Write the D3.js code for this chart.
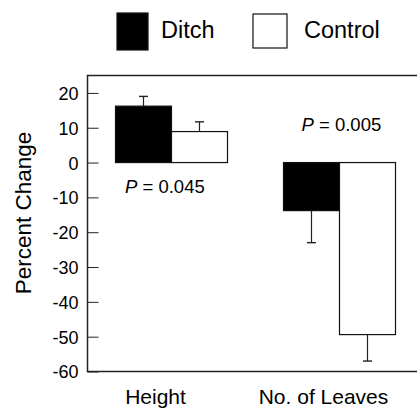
<!DOCTYPE html>
<html>
<head>
<meta charset="utf-8">
<script src="https://cdn.jsdelivr.net/npm/d3@7"></script>
<style>
    body { margin: 0; background: #fff; }
    text { font-family: "Liberation Sans", Arial, sans-serif; fill: #000; }
    .tick text { font-size: 18px; }
    .tick line { stroke: #222; }
</style>
</head>
<body>
<script>
// data
var categories = ["Height", "No. of Leaves"];
var groups = ["Ditch", "Control"];
var ditchValues = [16.2, -13.8];
var controlValues = [8.9, -49.4];
var ditchErrors = [2.8, 9.2];      // one-sided error bars
var controlErrors = [2.8, 7.6];
var pLabels = ["0.045", "0.005"];
var pLabelY = [-8.8, 9];           // value where the P text sits
var yTicks = [20, 10, 0, -10, -20, -30, -40, -50, -60];

function init() {
    var w = 417;
    var h = 408;
    var left = 87.5, top = 75.5, bottom = 371.5, right = 423.5;

    var svg = d3.select("body")
        .append("svg")
        .attr("width", w)
        .attr("height", h);

    var xScale = d3.scaleBand()
        .domain(categories)
        .range([left, right])
        .paddingInner(1 / 3)
        .paddingOuter(1 / 6);

    var xSub = d3.scaleBand()
        .domain(groups)
        .range([0, xScale.bandwidth()]);

    var yScale = d3.scaleLinear()
        .domain([-60, 25])
        .range([bottom, top]);

    // build rows for bars
    var rows = [];
    categories.forEach(function(c, i) {
        rows.push({cat: c, grp: "Ditch", v: ditchValues[i], e: ditchErrors[i]});
        rows.push({cat: c, grp: "Control", v: controlValues[i], e: controlErrors[i]});
    });

    // error bars first (drawn behind bars)
    var err = svg.append("g");
    rows.forEach(function(d) {
        var cx = xScale(d.cat) + xSub(d.grp) + xSub.bandwidth() / 2;
        var end = d.v >= 0 ? d.v + d.e : d.v - d.e;
        err.append("line")
            .attr("x1", cx).attr("x2", cx)
            .attr("y1", yScale(d.v)).attr("y2", yScale(end))
            .attr("stroke", "#222").attr("stroke-width", 1.2);
        err.append("line")
            .attr("x1", cx - 4.5).attr("x2", cx + 4.5)
            .attr("y1", yScale(end)).attr("y2", yScale(end))
            .attr("stroke", "#222").attr("stroke-width", 1.4);
    });

    // bars
    svg.append("g")
        .selectAll("rect")
        .data(rows)
        .enter()
        .append("rect")
        .attr("x", function(d) { return xScale(d.cat) + xSub(d.grp); })
        .attr("y", function(d) { return yScale(Math.max(0, d.v)); })
        .attr("width", xSub.bandwidth())
        .attr("height", function(d) { return Math.abs(yScale(d.v) - yScale(0)); })
        .attr("fill", function(d) { return d.grp == "Ditch" ? "#000" : "#fff"; })
        .attr("stroke", "#111")
        .attr("stroke-width", 1.2);

    // y axis, ticks pointing inward, plain hyphen minus like the original
    var yAxis = d3.axisLeft(yScale)
        .tickValues(yTicks)
        .tickFormat(function(d) { return String(d); })
        .tickSizeInner(-11)
        .tickSizeOuter(0)
        .tickPadding(9);

    var gy = svg.append("g")
        .attr("transform", "translate(" + left + ",0)")
        .call(yAxis);
    gy.select(".domain").remove();
    gy.selectAll(".tick text").attr("dy", "0.36em");

    // frame: left, top, bottom
    svg.append("path")
        .attr("d", "M" + right + "," + top + "H" + left + "V" + bottom + "H" + right)
        .attr("fill", "none")
        .attr("stroke", "#222")
        .attr("stroke-width", 1.5);

    // category labels
    svg.append("g")
        .selectAll("text")
        .data(categories)
        .enter()
        .append("text")
        .attr("x", function(d) { return xScale(d) + xScale.bandwidth() / 2 - 16; })
        .attr("y", 404)
        .attr("text-anchor", "middle")
        .style("font-size", "21px")
        .text(function(d) { return d; });

    // P values
    categories.forEach(function(c, i) {
        var t = svg.append("text")
            .attr("x", xScale(c) + (i == 0 ? 9.5 : 18))
            .attr("y", yScale(pLabelY[i]))
            .style("font-size", "18.5px");
        t.append("tspan").style("font-style", "italic").text("P");
        t.append("tspan").text(" = " + pLabels[i]);
    });

    // y axis title
    svg.append("text")
        .attr("transform", "translate(31," + 213 + ") rotate(-90)")
        .attr("text-anchor", "middle")
        .style("font-size", "22.5px")
        .text("Percent Change");

    // legend
    var legendX = [117, 253];
    var legendTextX = [161, 304];
    groups.forEach(function(g, i) {
        svg.append("rect")
            .attr("x", legendX[i])
            .attr("y", i == 0 ? 13 : 14)
            .attr("width", i == 0 ? 31 : 34)
            .attr("height", i == 0 ? 37 : 34)
            .attr("fill", i == 0 ? "#000" : "#fff")
            .attr("stroke", "#111")
            .attr("stroke-width", 1.2);
        svg.append("text")
            .attr("x", legendTextX[i])
            .attr("y", 38)
            .style("font-size", "23.5px")
            .text(g);
    });
}

window.onload = init;
</script>
</body>
</html>
